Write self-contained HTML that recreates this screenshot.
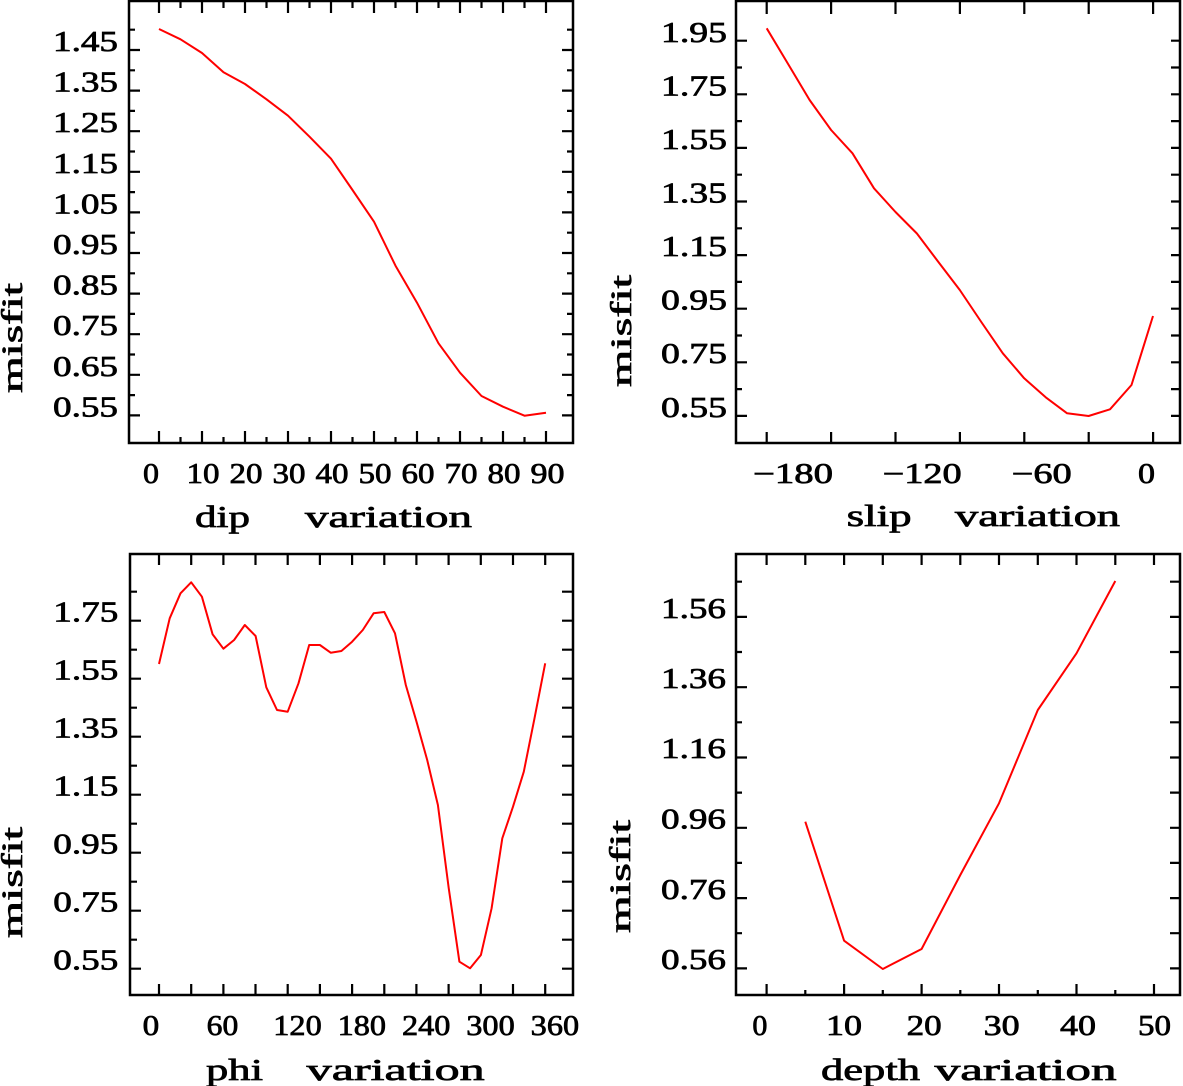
<!DOCTYPE html>
<html><head><meta charset="utf-8"><style>
html,body{margin:0;padding:0;background:#fff;}
svg{display:block;}
text{font-family:"Liberation Serif",serif;fill:#000;stroke:#000;stroke-width:0.7px;}
.t{font-size:28px;}
.a{font-size:31px;}
.m{font-size:30px;}
</style></head><body>
<svg width="1183" height="1086" viewBox="0 0 1183 1086" xmlns="http://www.w3.org/2000/svg">
<g fill="none" stroke="#000" stroke-width="2.5">
<!-- frames -->
<rect x="129" y="1" width="444" height="442"/>
<rect x="736" y="1" width="444" height="442"/>
<rect x="130" y="554" width="443" height="441"/>
<rect x="736" y="554" width="444" height="441"/>
</g>
<g stroke="#000" stroke-width="2.2">
<!-- TL bottom/top ticks -->
<path d="M159 443V431M180.5 443V437M202 443V431M223.5 443V437M245 443V431M266.5 443V437M288 443V431M309.5 443V437M331 443V431M352.5 443V437M374 443V431M395.5 443V437M417 443V431M438.5 443V437M460 443V431M481.5 443V437M503 443V431M524.5 443V437M546 443V431"/>
<path d="M159 1V13M180.5 1V8M202 1V13M223.5 1V8M245 1V13M266.5 1V8M288 1V13M309.5 1V8M331 1V13M352.5 1V8M374 1V13M395.5 1V8M417 1V13M438.5 1V8M460 1V13M481.5 1V8M503 1V13M524.5 1V8M546 1V13"/>
<!-- TL left/right ticks -->
<path d="M129 50H140M129 90.6H140M129 131.2H140M129 171.8H140M129 212.4H140M129 253H140M129 293.6H140M129 334.2H140M129 374.8H140M129 415.4H140M129 29.7H135M129 70.3H135M129 110.9H135M129 151.5H135M129 192.1H135M129 232.7H135M129 273.3H135M129 313.9H135M129 354.5H135M129 395.1H135"/>
<path d="M573 50H562M573 90.6H562M573 131.2H562M573 171.8H562M573 212.4H562M573 253H562M573 293.6H562M573 334.2H562M573 374.8H562M573 415.4H562M573 29.7H567M573 70.3H567M573 110.9H567M573 151.5H567M573 192.1H567M573 232.7H567M573 273.3H567M573 313.9H567M573 354.5H567M573 395.1H567"/>
<!-- TR ticks -->
<path d="M766.7 443V432M831.1 443V432M895.5 443V432M959.9 443V432M1024.3 443V432M1088.7 443V432M1153.1 443V432"/>
<path d="M766.7 1V14M831.1 1V14M895.5 1V14M959.9 1V14M1024.3 1V14M1088.7 1V14M1153.1 1V14"/>
<path d="M736 40.7H747M736 94.3H747M736 147.9H747M736 201.5H747M736 255.1H747M736 308.7H747M736 362.3H747M736 415.9H747M736 67.5H742M736 121.1H742M736 174.7H742M736 228.3H742M736 281.9H742M736 335.5H742M736 389.1H742"/>
<path d="M1180 40.7H1171M1180 94.3H1171M1180 147.9H1171M1180 201.5H1171M1180 255.1H1171M1180 308.7H1171M1180 362.3H1171M1180 415.9H1171M1180 67.5H1171M1180 121.1H1171M1180 174.7H1171M1180 228.3H1171M1180 281.9H1171M1180 335.5H1171M1180 389.1H1171"/>
<!-- BL ticks -->
<path d="M159 995V984M191.2 995V984M223.4 995V984M255.5 995V984M287.7 995V984M319.9 995V984M352.1 995V984M384.3 995V984M416.4 995V984M448.6 995V984M480.8 995V984M513 995V984M545.2 995V984"/>
<path d="M159 554V565M191.2 554V565M223.4 554V565M255.5 554V565M287.7 554V565M319.9 554V565M352.1 554V565M384.3 554V565M416.4 554V565M448.6 554V565M480.8 554V565M513 554V565M545.2 554V565"/>
<path d="M130 620.7H141M130 678.7H141M130 736.7H141M130 794.7H141M130 852.7H141M130 910.7H141M130 968.7H141M130 591.7H137M130 649.7H137M130 707.7H137M130 765.7H137M130 823.7H137M130 881.7H137M130 939.7H137"/>
<path d="M573 591.7H562M573 620.7H562M573 649.7H562M573 678.7H562M573 707.7H562M573 736.7H562M573 765.7H562M573 794.7H562M573 823.7H562M573 852.7H562M573 881.7H562M573 910.7H562M573 939.7H562M573 968.7H562"/>
<!-- BR ticks -->
<path d="M766.6 995V984M805.3 995V990M844.1 995V984M882.8 995V990M921.6 995V984M960.3 995V990M999 995V984M1037.8 995V990M1076.5 995V984M1115.3 995V990M1154 995V984"/>
<path d="M766.6 554V565M805.3 554V565M844.1 554V565M882.8 554V565M921.6 554V565M960.3 554V565M999 554V565M1037.8 554V565M1076.5 554V565M1115.3 554V565M1154 554V565"/>
<path d="M736 616.9H747M736 687.2H747M736 757.5H747M736 827.8H747M736 898.1H747M736 968.4H747M736 581.7H742M736 652H742M736 722.3H742M736 792.6H742M736 862.9H742M736 933.2H742"/>
<path d="M1180 581.7H1170M1180 616.9H1170M1180 652H1170M1180 687.2H1170M1180 722.3H1170M1180 757.5H1170M1180 792.6H1170M1180 827.8H1170M1180 862.9H1170M1180 898.1H1170M1180 933.2H1170M1180 968.4H1170"/>
</g>

<!-- curves -->
<g fill="none" stroke="#ff0000" stroke-width="2" stroke-linejoin="round">
<polyline points="159,29 180.5,39.3 202,53 223.5,72.3 245,84 266.5,99.3 288,115.7 309.5,136.7 331,158.7 352.5,190 374,221.7 395.5,265.7 417,302.7 438.5,343.3 460,372.7 481.5,396 503,406.7 524.5,415.7 546,412.7"/>
<polyline points="766.7,28.3 788.1,64 809.6,100 831.1,130 852.5,153.3 874,188.3 895.5,212 916.9,233.5 938.4,262 959.8,290 981.3,322 1002.8,353.3 1024.2,378.3 1045.7,397.3 1067.1,413.3 1088.6,416 1110,409.3 1131.5,385 1153,316"/>
<polyline points="159,664 169.7,618.3 180.5,593.3 191.2,582.3 201.9,596.7 212.6,634.3 223.4,648.7 234.1,640 244.8,625 255.6,636 266.3,687.3 277,710 287.7,711.7 298.5,683.3 309.2,645 319.9,645 330.7,652.7 341.4,651 352.1,641.7 362.8,630 373.6,613.3 384.3,612 395,633.3 405.8,685 416.5,721.7 427.2,760 437.9,805 448.7,888 459.4,961.7 470.1,968.3 480.9,955 491.6,908.3 502.3,838.3 513,806.7 523.8,771.7 534.5,718.3 545.2,663.3"/>
<polyline points="805.3,821.7 844.1,940.7 882.8,969 921.6,949 960.3,875 999,803.3 1037.8,710 1076.5,653.3 1115.3,581"/>
</g>

<!-- TL labels -->
<g class="t">
<text x="53" y="51" textLength="65" lengthAdjust="spacingAndGlyphs">1.45</text>
<text x="53" y="91.6" textLength="65" lengthAdjust="spacingAndGlyphs">1.35</text>
<text x="53" y="132.2" textLength="65" lengthAdjust="spacingAndGlyphs">1.25</text>
<text x="53" y="172.8" textLength="65" lengthAdjust="spacingAndGlyphs">1.15</text>
<text x="53" y="213.4" textLength="65" lengthAdjust="spacingAndGlyphs">1.05</text>
<text x="53" y="254" textLength="65" lengthAdjust="spacingAndGlyphs">0.95</text>
<text x="53" y="294.6" textLength="65" lengthAdjust="spacingAndGlyphs">0.85</text>
<text x="53" y="335.2" textLength="65" lengthAdjust="spacingAndGlyphs">0.75</text>
<text x="53" y="375.8" textLength="65" lengthAdjust="spacingAndGlyphs">0.65</text>
<text x="53" y="416.4" textLength="65" lengthAdjust="spacingAndGlyphs">0.55</text>
<text x="143" y="483" textLength="16" lengthAdjust="spacingAndGlyphs">0</text>
<text x="186.5" y="483" textLength="33" lengthAdjust="spacingAndGlyphs">10</text>
<text x="229.5" y="483" textLength="33" lengthAdjust="spacingAndGlyphs">20</text>
<text x="272.5" y="483" textLength="33" lengthAdjust="spacingAndGlyphs">30</text>
<text x="315.5" y="483" textLength="33" lengthAdjust="spacingAndGlyphs">40</text>
<text x="358.5" y="483" textLength="33" lengthAdjust="spacingAndGlyphs">50</text>
<text x="401.5" y="483" textLength="33" lengthAdjust="spacingAndGlyphs">60</text>
<text x="444.5" y="483" textLength="33" lengthAdjust="spacingAndGlyphs">70</text>
<text x="487.5" y="483" textLength="33" lengthAdjust="spacingAndGlyphs">80</text>
<text x="530.5" y="483" textLength="34" lengthAdjust="spacingAndGlyphs">90</text>
</g>
<!-- TR labels -->
<g class="t">
<text x="661" y="42" textLength="66" lengthAdjust="spacingAndGlyphs">1.95</text>
<text x="661" y="95.5" textLength="66" lengthAdjust="spacingAndGlyphs">1.75</text>
<text x="661" y="149" textLength="66" lengthAdjust="spacingAndGlyphs">1.55</text>
<text x="661" y="202.5" textLength="66" lengthAdjust="spacingAndGlyphs">1.35</text>
<text x="661" y="256" textLength="66" lengthAdjust="spacingAndGlyphs">1.15</text>
<text x="661" y="309.5" textLength="66" lengthAdjust="spacingAndGlyphs">0.95</text>
<text x="661" y="363" textLength="66" lengthAdjust="spacingAndGlyphs">0.75</text>
<text x="661" y="417" textLength="66" lengthAdjust="spacingAndGlyphs">0.55</text>
<text x="753" y="483" textLength="80" lengthAdjust="spacingAndGlyphs">−180</text>
<text x="882.7" y="483" textLength="79" lengthAdjust="spacingAndGlyphs">−120</text>
<text x="1011.7" y="483" textLength="60" lengthAdjust="spacingAndGlyphs">−60</text>
<text x="1138" y="483" textLength="17" lengthAdjust="spacingAndGlyphs">0</text>
</g>
<!-- BL labels -->
<g class="t">
<text x="53.3" y="621.5" textLength="65" lengthAdjust="spacingAndGlyphs">1.75</text>
<text x="53.3" y="679.5" textLength="65" lengthAdjust="spacingAndGlyphs">1.55</text>
<text x="53.3" y="737.5" textLength="65" lengthAdjust="spacingAndGlyphs">1.35</text>
<text x="53.3" y="795.5" textLength="65" lengthAdjust="spacingAndGlyphs">1.15</text>
<text x="53.3" y="853.5" textLength="65" lengthAdjust="spacingAndGlyphs">0.95</text>
<text x="53.3" y="911.5" textLength="65" lengthAdjust="spacingAndGlyphs">0.75</text>
<text x="53.3" y="969.5" textLength="65" lengthAdjust="spacingAndGlyphs">0.55</text>
<text x="142.7" y="1035" textLength="16.6" lengthAdjust="spacingAndGlyphs">0</text>
<text x="206.7" y="1035" textLength="31.6" lengthAdjust="spacingAndGlyphs">60</text>
<text x="273.3" y="1035" textLength="48.4" lengthAdjust="spacingAndGlyphs">120</text>
<text x="337.6" y="1035" textLength="48.4" lengthAdjust="spacingAndGlyphs">180</text>
<text x="402" y="1035" textLength="48.4" lengthAdjust="spacingAndGlyphs">240</text>
<text x="466.3" y="1035" textLength="48.4" lengthAdjust="spacingAndGlyphs">300</text>
<text x="530.7" y="1035" textLength="48.4" lengthAdjust="spacingAndGlyphs">360</text>
</g>
<!-- BR labels -->
<g class="t">
<text x="661" y="618" textLength="65" lengthAdjust="spacingAndGlyphs">1.56</text>
<text x="661" y="688" textLength="65" lengthAdjust="spacingAndGlyphs">1.36</text>
<text x="661" y="758" textLength="65" lengthAdjust="spacingAndGlyphs">1.16</text>
<text x="661" y="828.5" textLength="65" lengthAdjust="spacingAndGlyphs">0.96</text>
<text x="661" y="899" textLength="65" lengthAdjust="spacingAndGlyphs">0.76</text>
<text x="661" y="969" textLength="65" lengthAdjust="spacingAndGlyphs">0.56</text>
<text x="752.4" y="1035" textLength="15" lengthAdjust="spacingAndGlyphs">0</text>
<text x="826" y="1035" textLength="36" lengthAdjust="spacingAndGlyphs">10</text>
<text x="906.7" y="1035" textLength="35" lengthAdjust="spacingAndGlyphs">20</text>
<text x="983.7" y="1035" textLength="36" lengthAdjust="spacingAndGlyphs">30</text>
<text x="1060" y="1035" textLength="36" lengthAdjust="spacingAndGlyphs">40</text>
<text x="1138" y="1035" textLength="33" lengthAdjust="spacingAndGlyphs">50</text>
</g>

<!-- axis titles -->
<g class="a">
<text x="195" y="527" textLength="55" lengthAdjust="spacingAndGlyphs">dip</text>
<text x="305" y="527" textLength="167" lengthAdjust="spacingAndGlyphs">variation</text>
<text x="846.7" y="526" textLength="65" lengthAdjust="spacingAndGlyphs">slip</text>
<text x="955" y="526" textLength="165" lengthAdjust="spacingAndGlyphs">variation</text>
<text x="206" y="1080" textLength="57" lengthAdjust="spacingAndGlyphs">phi</text>
<text x="306.7" y="1080" textLength="178" lengthAdjust="spacingAndGlyphs">variation</text>
<text x="821" y="1080" textLength="99" lengthAdjust="spacingAndGlyphs">depth</text>
<text x="934.6" y="1080" textLength="182" lengthAdjust="spacingAndGlyphs">variation</text>
</g>
<g class="m">
<text transform="translate(22,393) rotate(-90)" x="0" y="0" textLength="110" lengthAdjust="spacingAndGlyphs">misfit</text>
<text transform="translate(22,938) rotate(-90)" x="0" y="0" textLength="111" lengthAdjust="spacingAndGlyphs">misfit</text>
<text transform="translate(631,387) rotate(-90)" x="0" y="0" textLength="112" lengthAdjust="spacingAndGlyphs">misfit</text>
<text transform="translate(630,933) rotate(-90)" x="0" y="0" textLength="113" lengthAdjust="spacingAndGlyphs">misfit</text>
</g>
</svg>
</body></html>
